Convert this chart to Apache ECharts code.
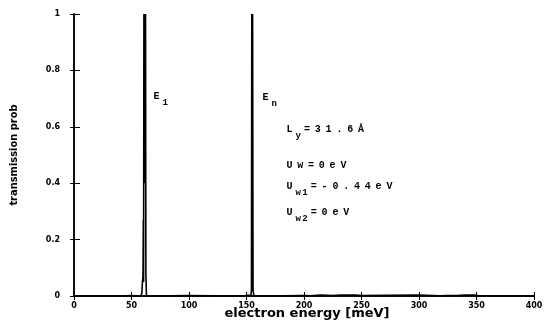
<!DOCTYPE html>
<html>
<head>
<meta charset="utf-8">
<script src="https://cdn.jsdelivr.net/npm/echarts@6/dist/echarts.min.js"></script>
<style>
html, body { margin: 0; padding: 0; background: #fff; }
#chart { width: 545px; height: 321px; }
</style>
</head>
<body>
<div id="chart"></div>
<script>
// electron energy [meV] and transmission probability
var energy = [0, 20, 40, 50, 56, 58, 59, 59.5, 60.0, 60.3, 60.5, 60.8, 61.2, 61.5, 61.9, 62.2, 62.5, 63, 66,
    100, 140, 150, 152, 153.8, 154.3, 154.6, 155.0, 155.3, 155.7, 156.5, 160,
    200, 205, 215, 225, 232, 245, 250, 300, 318, 325, 333, 340, 348, 352, 400];
var trans = [0, 0, 0, 0.002, 0, 0, 0.01, 0.05, 0.07, 0.27, 0.05, 1, 0.4, 1, 0.5, 1, 0.08, 0, 0,
    0.002, 0, 0.002, 0.003, 0, 0.02, 1, 0.85, 1, 0.02, 0, 0,
    0.002, 0.001, 0.003, 0.002, 0.003, 0.003, 0.002, 0.003, 0.001, 0.002, 0.002, 0.003, 0.003, 0.001, 0];

var xMin = 0, xMax = 400, xStep = 50;
var yMin = 0, yMax = 1, yStep = 0.2;

// annotation lines: [main, subscript, rest]
var notes = [
    ['E', '1', ''],
    ['E', 'n', ''],
    ['L', 'y', '=31.6Å'],
    ['Uw=0eV', '', ''],
    ['U', 'w1', '=-0.44eV'],
    ['U', 'w2', '=0eV']
];
var notePos = [[151, 91], [260, 92], [284, 124], [284, 160], [284, 181], [284, 207]];

var chart = echarts.init(document.getElementById('chart'));

function spaced(s, tag) {
    return s.split('').map(function (c) { return '{' + tag + '|' + c + '}'; }).join('');
}

var monoRich = {
    m: { fontFamily: 'Liberation Mono', fontWeight: 'bold', fontSize: 10, width: 10.8, align: 'center', lineHeight: 12, verticalAlign: 'top', fill: '#000' },
    s: { fontFamily: 'Liberation Mono', fontWeight: 'bold', fontSize: 9, width: 6.8, align: 'center', lineHeight: 16, verticalAlign: 'bottom', fill: '#000' }
};

var graphics = notes.map(function (n, i) {
    return {
        type: 'text',
        x: notePos[i][0],
        y: notePos[i][1],
        style: {
            text: spaced(n[0], 'm') + spaced(n[1], 's') + spaced(n[2], 'm'),
            rich: monoRich,
            fill: '#000'
        }
    };
});

var axisLine = { show: true, lineStyle: { color: '#000', width: 1.5 } };
var labelFont = { color: '#000', fontFamily: 'DejaVu Sans', fontWeight: 'bold', fontSize: 8 };

var option = {
    backgroundColor: '#fff',
    animation: false,
    grid: { left: 74, right: 11, top: 14, bottom: 25, outerBoundsMode: 'none', containLabel: false },
    xAxis: [
        {
            type: 'value', min: xMin, max: xMax, interval: xStep,
            name: 'electron energy [meV]',
            nameLocation: 'middle',
            nameGap: 11,
            nameMoveOverlap: false,
            nameTextStyle: { color: '#000', fontFamily: 'DejaVu Sans', fontWeight: 'bold', fontSize: 13, padding: [0, 0, 0, 6] },
            axisLine: axisLine,
            axisTick: { inside: true, length: 4, lineStyle: { color: '#000' } },
            axisLabel: Object.assign({ margin: 6 }, labelFont),
            splitLine: { show: false }
        },
        {
            type: 'value', min: xMin, max: xMax, interval: xStep, position: 'top',
            axisLine: axisLine,
            axisTick: { inside: true, length: 4, lineStyle: { color: '#000' } },
            axisLabel: { show: false },
            splitLine: { show: false }
        }
    ],
    yAxis: [
        {
            type: 'value', min: yMin, max: yMax, interval: yStep,
            name: 'transmission prob',
            nameLocation: 'middle',
            nameGap: 54,
            nameMoveOverlap: false,
            nameTextStyle: { color: '#000', fontFamily: 'DejaVu Sans Condensed', fontWeight: 'bold', fontSize: 11 },
            axisLine: axisLine,
            axisTick: { inside: true, length: 6, lineStyle: { color: '#000' } },
            axisLabel: Object.assign({ margin: 14 }, labelFont),
            splitLine: { show: false }
        },
        {
            type: 'value', min: yMin, max: yMax, interval: yStep, position: 'right',
            axisLine: axisLine,
            axisTick: { inside: true, length: 4, lineStyle: { color: '#000' } },
            axisLabel: { show: false },
            splitLine: { show: false }
        }
    ],
    series: [{
        type: 'line',
        data: energy.map(function (e, i) { return [e, trans[i]]; }),
        showSymbol: false,
        lineStyle: { color: '#000', width: 1.6 },
        clip: true
    }],
    graphic: graphics
};

chart.setOption(option);
</script>
</body>
</html>
